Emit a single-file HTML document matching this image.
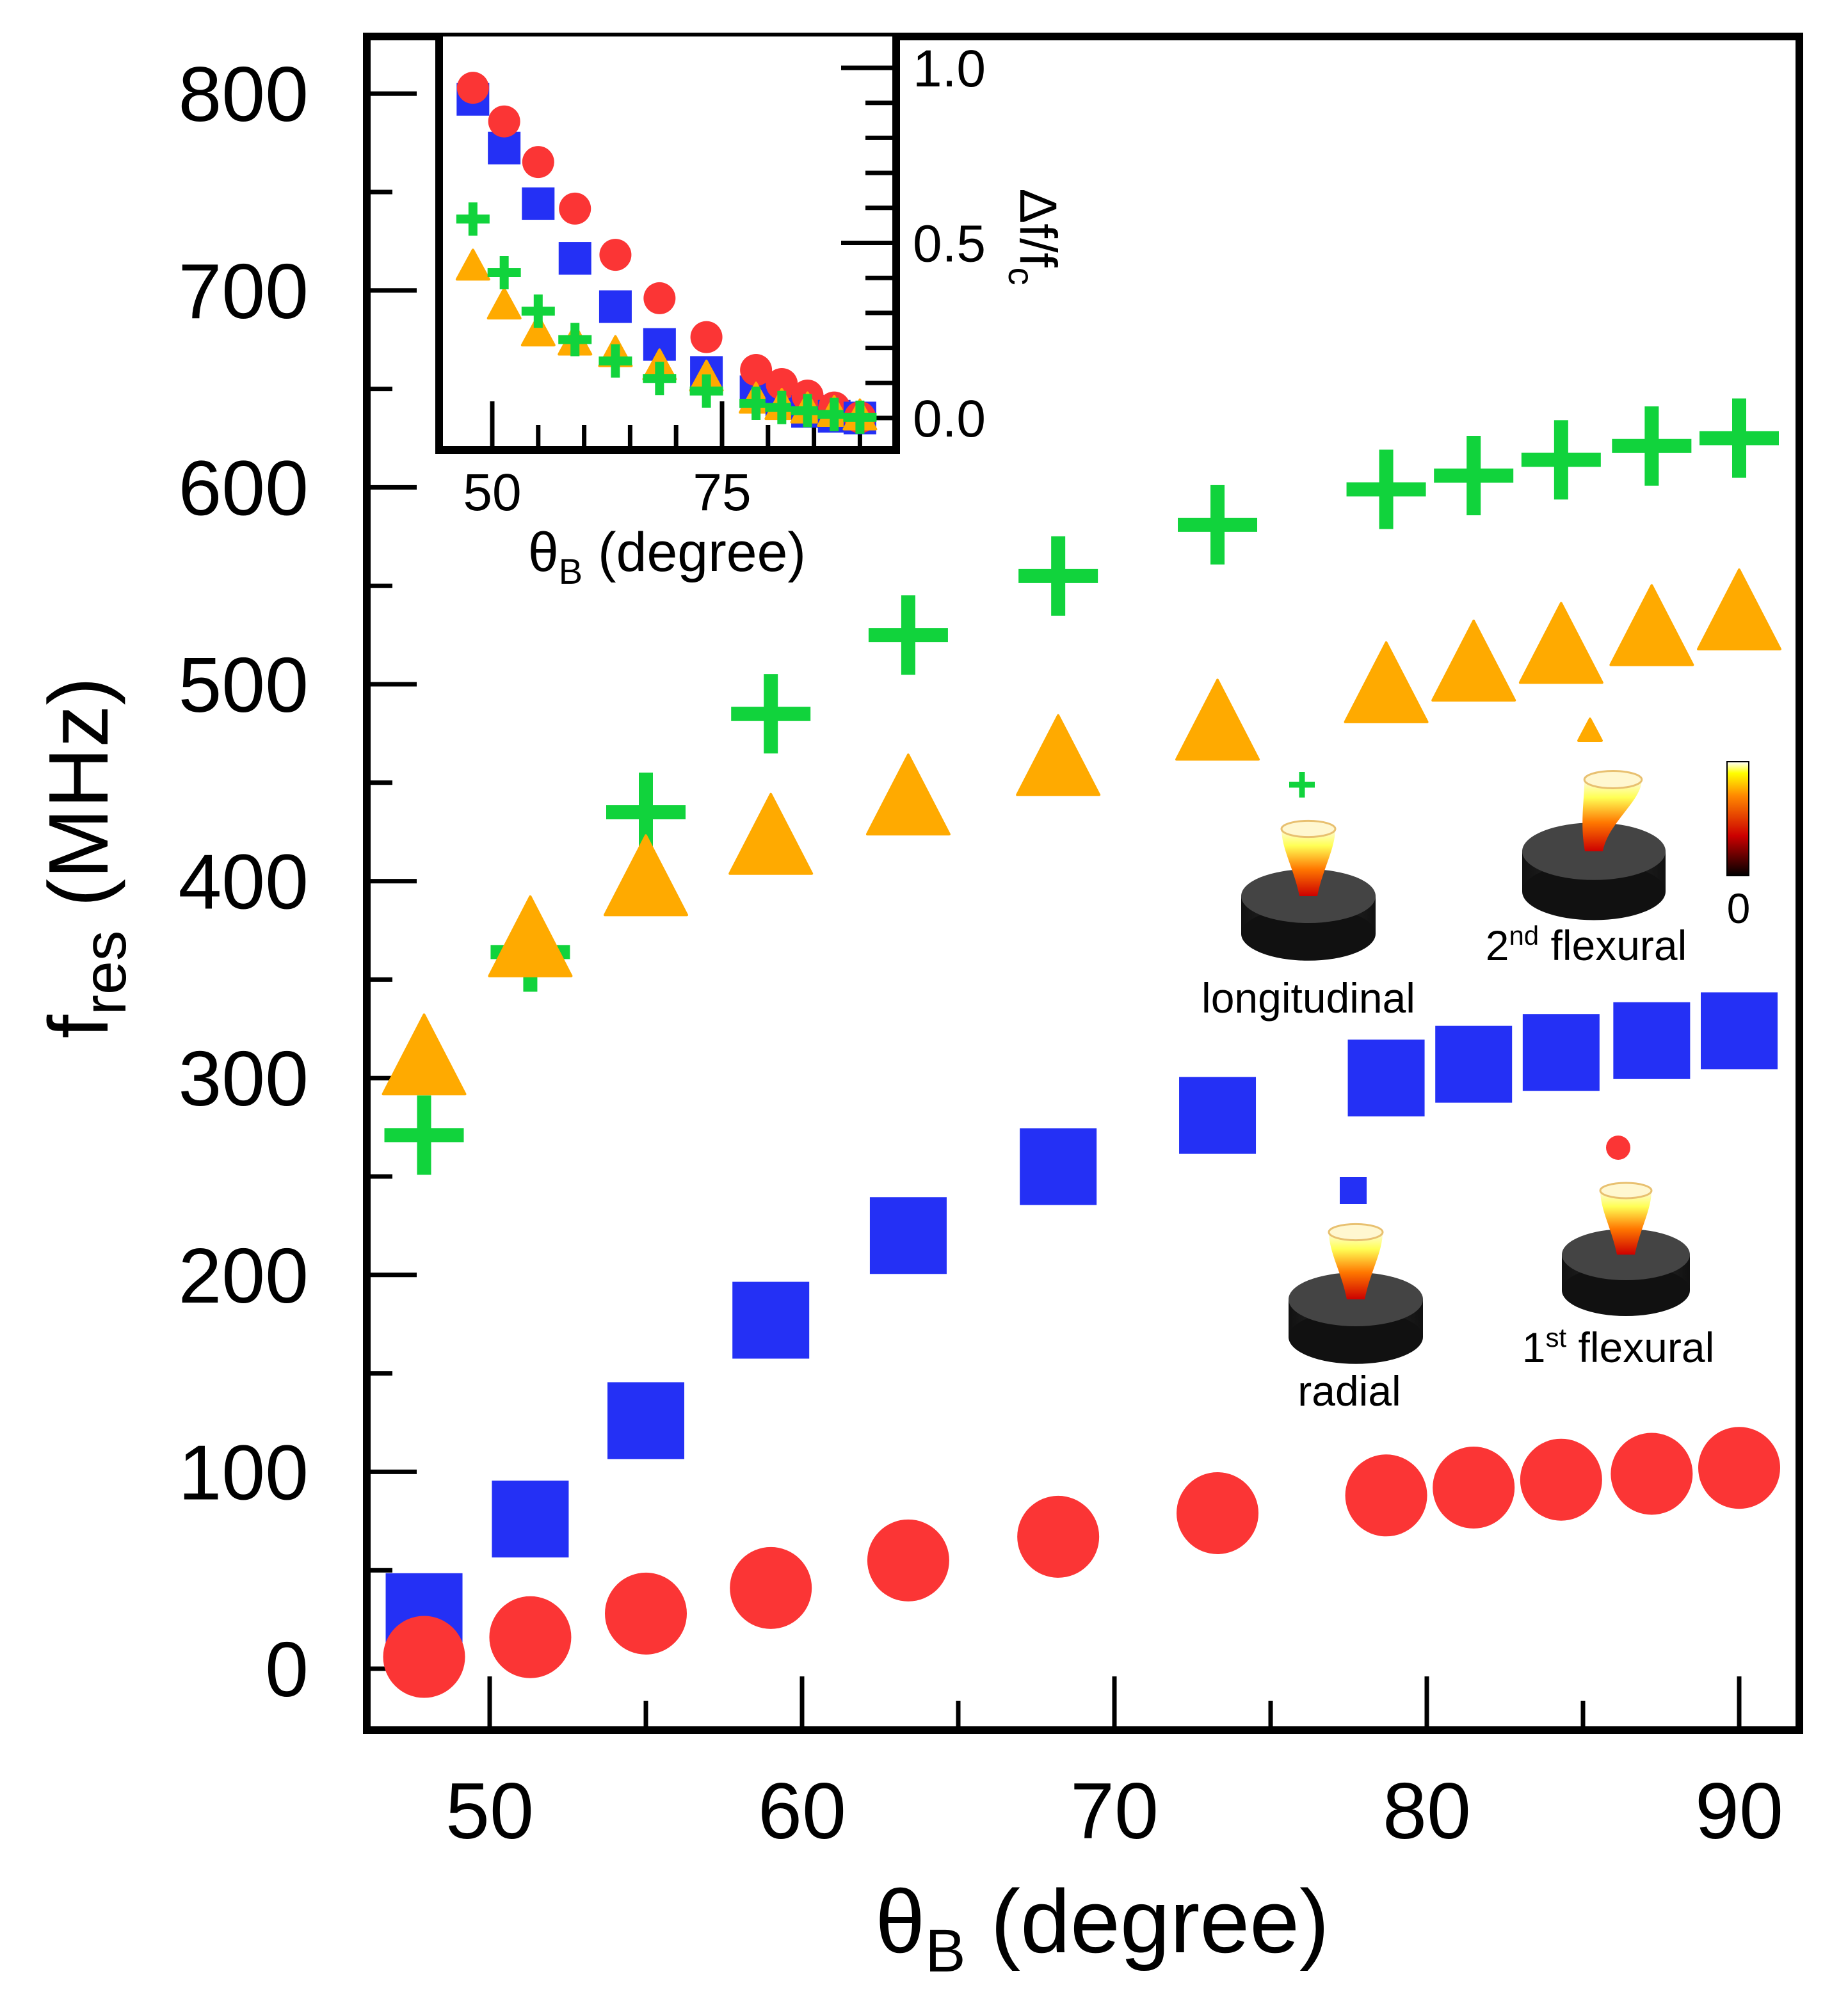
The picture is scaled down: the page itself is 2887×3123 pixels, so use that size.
<!DOCTYPE html>
<html><head><meta charset="utf-8"><style>
html,body{margin:0;padding:0;background:#fff}
svg{display:block}
text{font-family:"Liberation Sans",sans-serif;fill:#000}
</style></head><body>
<svg id="chart" xmlns="http://www.w3.org/2000/svg" width="2887" height="3123" viewBox="0 0 2887 3123">
<defs>
<linearGradient id="cbar" x1="0" y1="1" x2="0" y2="0"><stop offset="0" stop-color="#000"/><stop offset="0.35" stop-color="#c00"/><stop offset="0.7" stop-color="#f80"/><stop offset="0.9" stop-color="#ff0"/><stop offset="1" stop-color="#fff"/></linearGradient>
<linearGradient id="disc" x1="0" y1="0" x2="1" y2="0"><stop offset="0" stop-color="#111"/><stop offset="0.5" stop-color="#333"/><stop offset="1" stop-color="#111"/></linearGradient>
<linearGradient id="cone" x1="0" y1="1" x2="0" y2="0"><stop offset="0" stop-color="#c00"/><stop offset="0.4" stop-color="#f70"/><stop offset="0.75" stop-color="#ff5"/><stop offset="1" stop-color="#fffbe0"/></linearGradient>
</defs>
<g id="main-plot"></g>
<g id="inset"></g>
<g id="annot"></g>
</svg>
<script>
const thetaB = [47.9, 51.3, 55.0, 59.0, 63.4, 68.2, 73.3, 78.7, 81.5, 84.3, 87.2, 90.0];
const flexural1 = [6, 16, 28, 41, 55, 67, 79, 88, 92, 96, 99, 102];
const radial = [29, 76, 126, 177, 220, 255, 281, 300, 307, 313, 319, 324];
const flexural2 = [312, 372, 403, 424, 444, 464, 482, 501, 512, 521, 530, 538];
const longitudinal = [271, 364, 435, 485, 525, 555, 581, 599, 606, 614, 621, 625];
const insetFlex1 = [0.943, 0.847, 0.731, 0.598, 0.466, 0.342, 0.231, 0.137, 0.097, 0.064, 0.030, 0.002];
const insetRadial = [0.910, 0.771, 0.612, 0.456, 0.318, 0.210, 0.130, 0.075, 0.042, 0.019, 0.005, 0.0];
const insetFlex2 = [0.438, 0.327, 0.25, 0.224, 0.191, 0.153, 0.121, 0.058, 0.04, 0.03, 0.02, 0.01];
const insetLong = [0.568, 0.415, 0.305, 0.224, 0.163, 0.113, 0.077, 0.042, 0.030, 0.021, 0.010, 0.002];
const yTicks = [0, 100, 200, 300, 400, 500, 600, 700, 800];
const xTicks = [50, 60, 70, 80, 90];
const insetXTicks = [50, 75];
const insetYTicks = [0.0, 0.5, 1.0];

const NS = 'http://www.w3.org/2000/svg';
function mk(tag, attrs, parent, txt){const e=document.createElementNS(NS,tag);for(const k in attrs)e.setAttribute(k,attrs[k]);if(txt!==undefined)e.textContent=txt;parent.appendChild(e);return e;}
const X = d => 765 + (d - 50) * 48.8;
const Y = v => 2607 - v * 3.076;
const IX = d => 769 + (d - 50) * 14.36;
const IY = v => 653 - v * 547;
const IB = 703;

const main = document.getElementById('main-plot');
const inset = document.getElementById('inset');
const annot = document.getElementById('annot');

function circle(g,cx,cy,r,name){const e=mk('circle',{cx:cx,cy:cy,r:r,fill:'#fb3535'},g);}
function square(g,cx,cy,s,name){const e=mk('rect',{x:cx-s/2,y:cy-s/2,width:s,height:s,fill:'#2430f5'},g);}
function tri(g,cx,cy,w,h,name){const e=mk('polygon',{points:`${cx},${cy-h/2} ${cx+w/2},${cy+h/2} ${cx-w/2},${cy+h/2}`,fill:'#ffaa00','stroke':'#ffaa00','stroke-width':4,'stroke-linejoin':'round'},g);}
function plus(g,cx,cy,s,t,name){const e=mk('path',{d:`M${cx-s/2},${cy}H${cx+s/2}M${cx},${cy-s/2}V${cy+s/2}`,stroke:'#11d33c','stroke-width':t,fill:'none'},g);}

for(let v=0; v<=800; v+=50){
  const major = v%100===0;
  const t=mk('line',{x1:573,x2:573+(major?78:40),y1:Y(v),y2:Y(v),stroke:'#000','stroke-width':7},main);
  
  
}
yTicks.forEach(v=>{
  const t=mk('text',{x:482,y:Y(v)+43,'text-anchor':'end','font-size':122},main,String(v));
  
  
});
for(let d=50; d<=90; d+=5){
  const major = d%10===0;
  const t=mk('line',{x1:X(d),x2:X(d),y1:2703,y2:2703-(major?84:46),stroke:'#000','stroke-width':7},main);
  
  
}
xTicks.forEach(d=>{
  const t=mk('text',{x:X(d),y:2872,'text-anchor':'middle','font-size':124},main,String(d));
  
  
});
thetaB.forEach((d,i)=>{
  plus(main,X(d),Y(longitudinal[i]),124,22,'longitudinal-point');
  tri(main,X(d),Y(flexural2[i]),128,124,'flexural2-point');
  square(main,X(d),Y(radial[i]),120,'radial-point');
  circle(main,X(d),Y(flexural1[i]),64,'flexural1-point');
});
const fr=mk('rect',{x:573,y:57,width:2238,height:2646,fill:'none',stroke:'#000','stroke-width':12},main);


const xt=mk('text',{x:1722,y:3050,'text-anchor':'middle','font-size':140},main);


xt.innerHTML='θ<tspan font-size="95" dy="30">B</tspan><tspan dy="-30"> (degree)</tspan>';
const yt=mk('text',{x:0,y:0,'text-anchor':'middle','font-size':132,transform:'translate(168,1340) rotate(-90)'},main);


yt.innerHTML='f<tspan font-size="95" dy="28">res</tspan><tspan dy="-28"> (MHz)</tspan>';

// inset
const ib=mk('rect',{x:686,y:57,width:714,height:IB-57,fill:'#fff'},inset);


for(let k=0;k<=10;k++){
  const v=k/10, major=k%5===0;
  const t=mk('line',{x1:1400,x2:1400-(major?86:48),y1:IY(v),y2:IY(v),stroke:'#000','stroke-width':7},inset);
  
  
}
insetYTicks.forEach(v=>{
  const t=mk('text',{x:1426,y:IY(v)+29,'font-size':82},inset,v.toFixed(1));
  
  
});
for(let d=50; d<=90; d+=5){
  const major = d===50||d===75;
  const t=mk('line',{x1:IX(d),x2:IX(d),y1:IB,y2:IB-(major?76:39),stroke:'#000','stroke-width':7},inset);
  
  
}
insetXTicks.forEach(d=>{
  const t=mk('text',{x:IX(d),y:797,'text-anchor':'middle','font-size':82},inset,String(d));
  
  
});
thetaB.forEach((d,i)=>{
  square(inset,IX(d),IY(insetRadial[i]),51,'inset-radial-point');
  circle(inset,IX(d),IY(insetFlex1[i]),25,'inset-flexural1-point');
  tri(inset,IX(d),IY(insetFlex2[i]),50,46,'inset-flexural2-point');
  plus(inset,IX(d),IY(insetLong[i]),52,14,'inset-longitudinal-point');
});
const ifr=mk('path',{d:`M686,57V${IB}H1400V57`,fill:'none',stroke:'#000','stroke-width':12},inset);


const ixt=mk('text',{x:1042,y:892,'text-anchor':'middle','font-size':86},inset);


ixt.innerHTML='θ<tspan font-size="56" dy="20">B</tspan><tspan dy="-20"> (degree)</tspan>';
const iyt=mk('text',{x:0,y:0,'text-anchor':'middle','font-size':82,transform:'translate(1594,370) rotate(90)'},inset);


iyt.innerHTML='Δf/f<tspan font-size="56" dy="18">c</tspan>';

function pedestal(cx,cy,w,name,bend){
  const g=mk('g',{},annot);
  
  
  const h=w*0.28;
  mk('rect',{x:cx-w/2,y:cy,width:w,height:h,fill:'url(#disc)'},g);
  mk('ellipse',{cx:cx,cy:cy+h,rx:w/2,ry:w*0.2,fill:'#111'},g);
  mk('ellipse',{cx:cx,cy:cy,rx:w/2,ry:w*0.2,fill:'#444'},g);
  const top=cy-w*0.5, bx=cx+(bend||0);
  mk('path',{d:`M${cx-14},${cy} C${cx-22},${cy-w*0.2} ${bx-w*0.2},${top+w*0.15} ${bx-w*0.2},${top} L${bx+w*0.2},${top} C${bx+w*0.2},${top+w*0.15} ${cx+22},${cy-w*0.2} ${cx+14},${cy} Z`,fill:'url(#cone)'},g);
  mk('ellipse',{cx:bx,cy:top,rx:w*0.2,ry:w*0.06,fill:'#fff7d0',stroke:'#e8c070','stroke-width':3},g);
}
pedestal(2044,1400,210,'longitudinal-mode-image',0);
pedestal(2490,1330,224,'flexural2-mode-image',30);
pedestal(2118,2030,210,'radial-mode-image',0);
pedestal(2540,1960,200,'flexural1-mode-image',0);
plus(annot,2034,1226,40,9,'longitudinal-legend-marker');
tri(annot,2484,1140,36,34,'flexural2-legend-marker');
square(annot,2114,1860,42,'radial-legend-marker');
circle(annot,2528,1793,19,'flexural1-legend-marker');
const labels=[[2044,1582,'longitudinal','longitudinal-label'],[2108,2196,'radial','radial-label']];
labels.forEach(l=>{const t=mk('text',{x:l[0],y:l[1],'text-anchor':'middle','font-size':66},annot,l[2]);});
const l2=mk('text',{x:2478,y:1500,'text-anchor':'middle','font-size':66},annot);


l2.innerHTML='2<tspan font-size="42" dy="-24">nd</tspan><tspan dy="24"> flexural</tspan>';
const l1=mk('text',{x:2528,y:2128,'text-anchor':'middle','font-size':66},annot);


l1.innerHTML='1<tspan font-size="42" dy="-24">st</tspan><tspan dy="24"> flexural</tspan>';
const cb=mk('rect',{x:2698,y:1190,width:34,height:178,fill:'url(#cbar)',stroke:'#000','stroke-width':2},annot);


const c0=mk('text',{x:2716,y:1442,'text-anchor':'middle','font-size':66},annot,'0');


</script>
</body></html>
